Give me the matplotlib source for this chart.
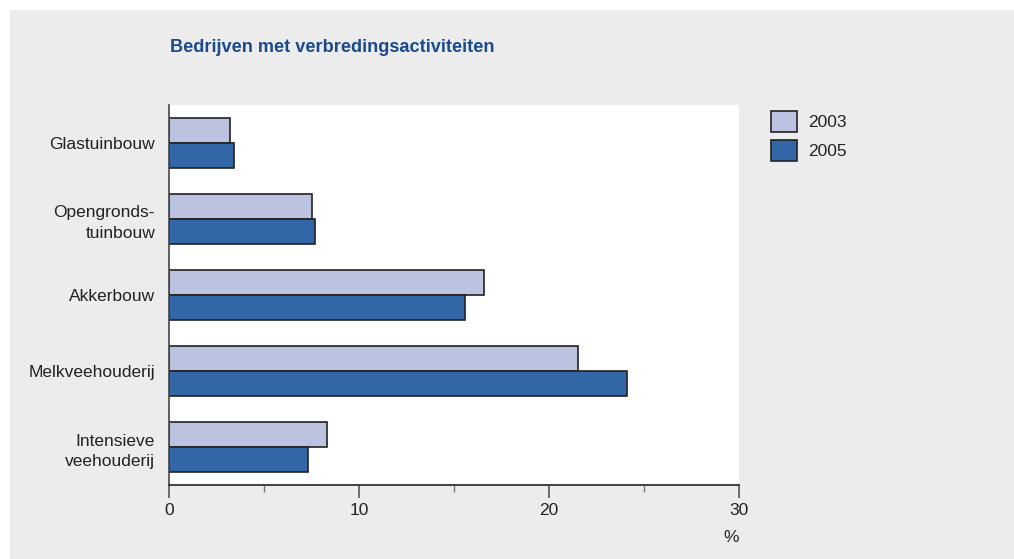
import matplotlib
matplotlib.use("Agg")
import matplotlib.pyplot as plt
from matplotlib.patches import Rectangle
import numpy as np

categories = ["Glastuinbouw", "Opengronds-\ntuinbouw", "Akkerbouw", "Melkveehouderij", "Intensieve\nveehouderij"]
series_labels = ["2003", "2005"]
values_2003 = [3.2, 7.5, 16.6, 21.5, 8.3]
values_2005 = [3.4, 7.7, 15.6, 24.1, 7.3]
xticks = [0, 10, 20, 30]

plt.rcParams['font.family'] = ['Liberation Sans Narrow', 'Liberation Sans', 'DejaVu Sans']

fig = plt.figure(figsize=(10.14, 5.59), dpi=100)
fig.patch.set_facecolor("white")
fig.patches.append(Rectangle((10/1014, 0), 1, (559-10)/559, transform=fig.transFigure,
                             facecolor="#ececec", edgecolor="none", zorder=-10))

ax = fig.add_axes([169/1014, 1-485/559, 570/1014, 380/559])
ax.set_facecolor("white")

y = np.arange(len(categories))
h = 0.335
light = "#bcc3e0"
dark = "#3366a6"
ax.barh(y - h/2, values_2003, height=h, color=light, edgecolor="#222222", linewidth=1.2, label=series_labels[0])
ax.barh(y + h/2, values_2005, height=h, color=dark, edgecolor="#222222", linewidth=1.2, label=series_labels[1])

ax.set_ylim(len(categories) - 0.5, -0.5)
ax.set_xlim(0, 30)
ax.set_yticks(y)
ax.set_yticklabels(categories, fontsize=12.5, color="#222222", ha="right", multialignment="right",
                   linespacing=1.45)
ax.tick_params(axis="y", length=0, pad=10)
ax.set_xticks(xticks)
ax.set_xticks([5, 15, 25], minor=True)
ax.tick_params(axis="x", which="major", length=9, width=1.2, color="#555555", labelsize=12.5, labelcolor="#222222", pad=4)
ax.tick_params(axis="x", which="minor", length=5, width=1.0, color="#777777")

for s in ["top", "right"]:
    ax.spines[s].set_visible(False)
ax.spines["left"].set_color("#444444")
ax.spines["bottom"].set_color("#333333")
ax.spines["left"].set_linewidth(1.2)
ax.spines["bottom"].set_linewidth(1.3)

fig.text(170/1014, 1-47/559, "Bedrijven met verbredingsactiviteiten", fontsize=13.1, fontweight="bold",
         color="#1a4a8c", ha="left", va="center")
fig.text(731/1014, 1-538/559, "%", fontsize=12.5, color="#222222", ha="center", va="center")

leg = ax.legend(loc="upper left", bbox_to_anchor=(764/1014, 1-104/559), bbox_transform=fig.transFigure,
                frameon=False, fontsize=12.5, handlelength=1.5, handleheight=1.45, handletextpad=0.65,
                labelspacing=0.5, borderaxespad=0)
for t in leg.get_texts():
    t.set_color("#222222")

fig.savefig("out.png", dpi=100, facecolor=fig.get_facecolor())
